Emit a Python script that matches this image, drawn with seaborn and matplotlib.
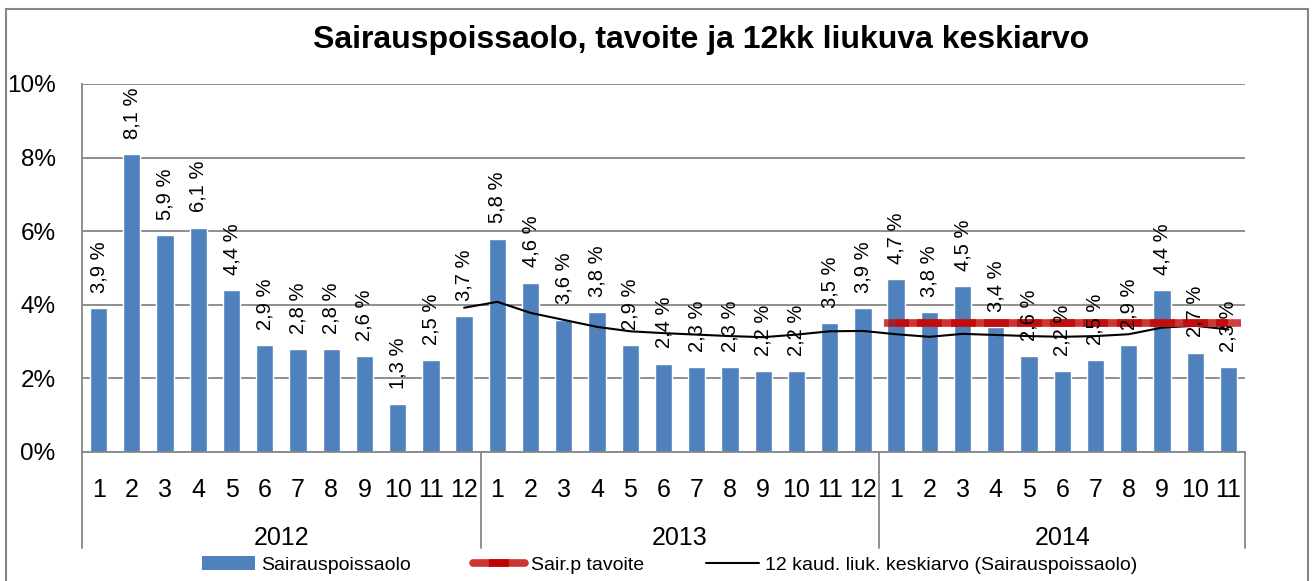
import matplotlib
matplotlib.use("Agg")
import matplotlib.pyplot as plt
import matplotlib.transforms as mtransforms
from matplotlib.patches import Patch, Rectangle
from matplotlib.lines import Line2D
import seaborn as sns
import pandas as pd
import numpy as np

# ---- data ----
years = ["2012", "2013", "2014"]
months_2012 = [1, 2, 3, 4, 5, 6, 7, 8, 9, 10, 11, 12]
months_2013 = [1, 2, 3, 4, 5, 6, 7, 8, 9, 10, 11, 12]
months_2014 = [1, 2, 3, 4, 5, 6, 7, 8, 9, 10, 11]
sick_2012 = [3.9, 8.1, 5.9, 6.1, 4.4, 2.9, 2.8, 2.8, 2.6, 1.3, 2.5, 3.7]
sick_2013 = [5.8, 4.6, 3.6, 3.8, 2.9, 2.4, 2.3, 2.3, 2.2, 2.2, 3.5, 3.9]
sick_2014 = [4.7, 3.8, 4.5, 3.4, 2.6, 2.2, 2.5, 2.9, 4.4, 2.7, 2.3]
# 12-month moving average, starting at 2012 month 12
moving_avg = [3.92, 4.08, 3.78, 3.59, 3.40, 3.28, 3.23, 3.19, 3.15, 3.12, 3.19, 3.28,
              3.29, 3.20, 3.13, 3.21, 3.18, 3.15, 3.13, 3.15, 3.20, 3.38, 3.43, 3.33]
# target for 2014 months
target_2014 = [3.5] * 11

title = "Sairauspoissaolo, tavoite ja 12kk liukuva keskiarvo"
legend_labels = ["Sairauspoissaolo", "Sair.p tavoite", "12 kaud. liuk. keskiarvo (Sairauspoissaolo)"]

# ---- build frame ----
month_labels = months_2012 + months_2013 + months_2014
values = sick_2012 + sick_2013 + sick_2014
n = len(values)
df = pd.DataFrame({"pos": np.arange(n), "value": values})

sns.set_theme(style="white")
plt.rcParams["font.family"] = ["Liberation Sans Narrow", "Liberation Sans", "DejaVu Sans"]
plt.rcParams["text.color"] = "black"
plt.rcParams["xtick.color"] = "black"
plt.rcParams["ytick.color"] = "black"
plt.rcParams["xtick.labelcolor"] = "black"
plt.rcParams["ytick.labelcolor"] = "black"

W, H = 1313, 581
fig = plt.figure(figsize=(W / 100, H / 100), dpi=100)
ax = fig.add_axes([82 / W, 1 - 452 / H, (1245 - 82) / W, (452 - 84) / H])

bar_color = "#4F81BD"
grid_color = "#868686"
red_line = "#CD3434"
red_mark = "#BE0000"

sns.barplot(data=df, x="pos", y="value", color=bar_color, width=0.52,
            saturation=1, ax=ax, zorder=2)

# moving average line
ma_x = np.arange(n - len(moving_avg), n)
sns.lineplot(x=ma_x, y=moving_avg, color="black", linewidth=1.5, ax=ax,
             zorder=4, sort=False)

# target line
t_x = np.arange(n - len(target_2014), n)
ax.plot(t_x, target_2014, color=red_line, linewidth=5.5, zorder=5,
        solid_capstyle="butt")
ax.plot(t_x, target_2014, linestyle="none", marker="_", markersize=18,
        markeredgewidth=5.5, color=red_mark, alpha=0.75, zorder=6)

# data labels
for i, v in enumerate(values):
    ax.annotate(f"{v:.1f} %".replace(".", ","), (i, v), xytext=(0, 11),
                textcoords="offset points", rotation=90, ha="center", va="bottom",
                fontsize=14.5, color="black", zorder=7)

ax.set_xlim(-0.5, n - 0.5)
ax.set_ylim(0, 10)
ax.set_yticks([0, 2, 4, 6, 8, 10])
ax.set_yticklabels([f"{t}%" for t in [0, 2, 4, 6, 8, 10]], fontsize=17.5)
ax.yaxis.grid(True, color=grid_color, linewidth=1.3, zorder=0)
ax.set_axisbelow(True)
ax.set_xticks(np.arange(n))
ax.set_xticklabels([str(m) for m in month_labels], fontsize=18)
ax.tick_params(axis="x", length=0, pad=19, labelcolor="black")
ax.tick_params(axis="y", length=0, pad=19, labelcolor="black")
ax.set_xlabel("")
ax.set_ylabel("")
for s in ["top", "right"]:
    ax.spines[s].set_visible(False)
for s in ["left", "bottom"]:
    ax.spines[s].set_color(grid_color)
    ax.spines[s].set_linewidth(1.3)

# year group labels and separators
trans = mtransforms.blended_transform_factory(ax.transData, ax.transAxes)
sep_depth = -(548 - 452) / (452 - 84)
starts = [0, len(months_2012), len(months_2012) + len(months_2013)]
counts = [len(months_2012), len(months_2013), len(months_2014)]
for yr, st, ct in zip(years, starts, counts):
    ax.text(st + ct / 2 - 0.5, -(538 - 452) / (452 - 84), yr, transform=trans,
            ha="center", va="center", fontsize=18, color="black")
for b in starts + [n]:
    ax.plot([b - 0.5, b - 0.5], [0, sep_depth], transform=trans, color=grid_color,
            linewidth=1.3, clip_on=False)

fig.text(701 / W, 1 - 40 / H, title, ha="center", va="center", fontsize=23,
         fontweight="bold", color="black")

handles = [
    Patch(facecolor=bar_color, edgecolor="none"),
    Line2D([0, 1], [0, 0], color=red_line, linewidth=5.5, marker="_", markersize=14,
           markeredgewidth=5.5, markeredgecolor=red_mark, markevery=[0],
           solid_capstyle="round"),
    Line2D([0], [0], color="black", linewidth=1.5),
]
leg = fig.legend(handles, legend_labels, loc="center", bbox_to_anchor=(0.51, 1 - 565 / H),
                 ncol=3, frameon=False, fontsize=14, handlelength=2.7,
                 columnspacing=3.2, handletextpad=0.3, borderaxespad=0,
                 labelcolor="black")

fig.patches.append(Rectangle((6 / W, -0.02), (1308 - 6) / W, 1.02 - 9 / H,
                             transform=fig.transFigure, fill=False,
                             edgecolor=grid_color, linewidth=1.5))

fig.savefig("out.png", dpi=100)
